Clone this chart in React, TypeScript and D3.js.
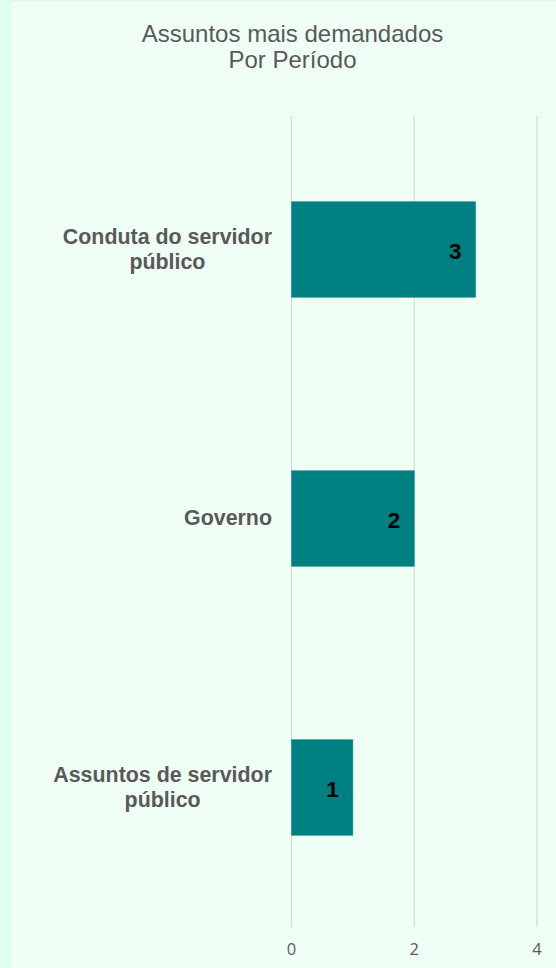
import React, { useEffect, useRef } from "react";
import * as d3 from "d3";

const titleLines = ["Assuntos mais demandados", "Por Período"];
const categories = ["Conduta do servidor público", "Governo", "Assuntos de servidor público"];
const values = [3, 2, 1];
const xTicks = [0, 2, 4];

const W = 556;
const H = 968;

export default function App() {
  const ref = useRef<SVGSVGElement | null>(null);

  useEffect(() => {
    const svg = d3.select(ref.current);
    svg.selectAll("*").remove();

    svg.append("rect").attr("x", 0).attr("y", 0).attr("width", W).attr("height", H).attr("fill", "#defff0");
    svg
      .append("rect")
      .attr("x", 12.5)
      .attr("y", 2.5)
      .attr("width", W + 20)
      .attr("height", H + 20)
      .attr("fill", "#effff5")
      .attr("stroke", "#ffffff")
      .attr("stroke-width", 1.2);

    const x = d3.scaleLinear().domain([0, 4]).range([291.5, 537]);
    const y = d3
      .scaleBand<string>()
      .domain(categories)
      .range([115, 922])
      .paddingInner(0.645)
      .paddingOuter(0.3225);

    // title
    const title = svg
      .append("text")
      .attr("x", 292.5)
      .attr("y", 41.7)
      .attr("text-anchor", "middle")
      .attr("font-family", "Arial, 'Liberation Sans', sans-serif")
      .attr("font-size", 24)
      .attr("fill", "#595959");
    titleLines.forEach((t, i) => {
      title.append("tspan").attr("x", 292.5).attr("dy", i === 0 ? 0 : 26.6).text(t);
    });

    // gridlines
    svg
      .append("g")
      .selectAll("line")
      .data(xTicks)
      .join("line")
      .attr("x1", (d) => x(d))
      .attr("x2", (d) => x(d))
      .attr("y1", 116)
      .attr("y2", 927)
      .attr("stroke", "#d9d9d9")
      .attr("stroke-width", 1.3);

    // tick labels
    svg
      .append("g")
      .selectAll("text")
      .data(xTicks)
      .join("text")
      .attr("x", (d) => x(d))
      .attr("y", 955)
      .attr("text-anchor", "middle")
      .attr("font-family", "'Open Sans', sans-serif")
      .attr("font-size", 16.5)
      .attr("fill", "#595959")
      .text((d) => String(d));

    // bars
    svg
      .append("g")
      .selectAll("rect")
      .data(categories)
      .join("rect")
      .attr("x", x(0))
      .attr("y", (d) => y(d)!)
      .attr("width", (d, i) => x(values[i]) - x(0))
      .attr("height", y.bandwidth())
      .attr("fill", "#008080")
      .attr("stroke", "#1a8f8f")
      .attr("stroke-width", 0.6);

    // data labels
    svg
      .append("g")
      .selectAll("text")
      .data(categories)
      .join("text")
      .attr("x", (d, i) => x(values[i]) - 14)
      .attr("y", (d) => y(d)! + y.bandwidth() / 2 + 9.5)
      .attr("text-anchor", "end")
      .attr("font-family", "Arial, 'Liberation Sans', sans-serif")
      .attr("font-weight", "bold")
      .attr("font-size", 22.5)
      .attr("fill", "#000000")
      .text((d, i) => String(values[i]));

    // category labels, wrapped; block right-aligned, lines centered
    const fs = 21.4;
    const lh = 24.7;
    const maxW = 228;
    const rightEdge = 272;
    const g = svg.append("g");
    const measure = g
      .append("text")
      .attr("font-family", "Arial, 'Liberation Sans', sans-serif")
      .attr("font-weight", "bold")
      .attr("font-size", fs);
    const width = (s: string) => {
      measure.text(s);
      return (measure.node() as SVGTextElement).getComputedTextLength();
    };
    categories.forEach((cat) => {
      const words = cat.split(" ");
      const lines: string[] = [];
      let cur = "";
      words.forEach((w) => {
        const test = cur ? cur + " " + w : w;
        if (cur && width(test) > maxW) {
          lines.push(cur);
          cur = w;
        } else cur = test;
      });
      if (cur) lines.push(cur);
      const block = Math.max(...lines.map(width));
      const cx = rightEdge - block / 2;
      const cy = y(cat)! + y.bandwidth() / 2;
      const t = g
        .append("text")
        .attr("text-anchor", "middle")
        .attr("font-family", "Arial, 'Liberation Sans', sans-serif")
        .attr("font-weight", "bold")
        .attr("font-size", fs)
        .attr("fill", "#595959");
      lines.forEach((ln, i) => {
        t.append("tspan")
          .attr("x", cx)
          .attr("y", cy + 6.8 + (i - (lines.length - 1) / 2) * lh)
          .text(ln);
      });
    });
    measure.remove();
  }, []);

  return (
    <div style={{ position: "absolute", left: 0, top: 0 }}>
      <svg ref={ref} width={W} height={H} style={{ display: "block" }} />
    </div>
  );
}
